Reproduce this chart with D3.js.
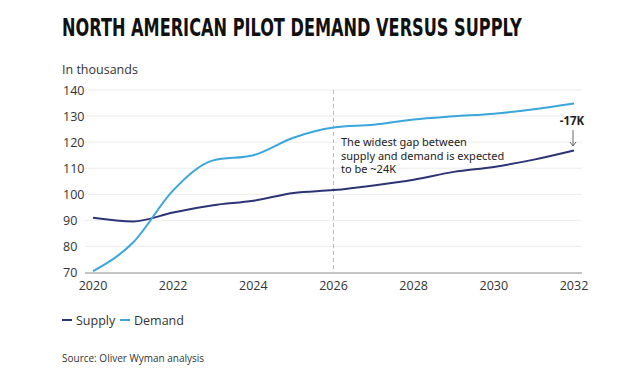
<!DOCTYPE html>
<html>
<head>
<meta charset="utf-8">
<script src="https://cdn.jsdelivr.net/npm/d3@7"></script>
<style>
  body { margin: 0; background: #fff; }
  text { font-family: "Open Sans", "Noto Sans", sans-serif; }
</style>
</head>
<body>
<div id="chart"></div>
<script>
// data (thousands of pilots)
const years = [2020, 2021, 2022, 2023, 2024, 2025, 2026, 2027, 2028, 2029, 2030, 2031, 2032];
const supply = [91, 89.6, 93, 95.8, 97.5, 100.5, 101.6, 103.4, 105.6, 108.6, 110.5, 113.3, 116.8];
const demand = [70.5, 81.5, 101.5, 113, 115, 121.7, 125.6, 126.7, 128.7, 129.9, 130.9, 132.6, 134.8];
const yTicks = [70, 80, 90, 100, 110, 120, 130, 140];
const xTicks = [2020, 2022, 2024, 2026, 2028, 2030, 2032];

const W = 632, H = 377;

const svg = d3.select("#chart")
    .append("svg")
    .attr("width", W)
    .attr("height", H);

// title - squeeze a condensed bold face to the reference width
const title = svg.append("text")
    .attr("x", 0)
    .attr("y", 0)
    .style("font-family", "'DejaVu Sans Condensed', 'DejaVu Sans', sans-serif")
    .style("font-weight", "bold")
    .style("font-size", "24px")
    .attr("fill", "#111")
    .text("NORTH AMERICAN PILOT DEMAND VERSUS SUPPLY");
const tw = title.node().getComputedTextLength();
title.attr("transform", `translate(62,36) scale(${460 / tw},1)`);

svg.append("text")
    .attr("x", 62)
    .attr("y", 74)
    .style("font-size", "12.5px")
    .attr("fill", "#333")
    .text("In thousands");

const x = d3.scaleLinear()
    .domain([2020, 2032])
    .range([93, 574]);

const y = d3.scaleLinear()
    .domain([70, 140])
    .range([272.5, 90]);

// gridlines
svg.append("g")
    .selectAll("line")
    .data(yTicks.slice(1))
    .join("line")
    .attr("x1", 85)
    .attr("x2", 582)
    .attr("y1", d => y(d))
    .attr("y2", d => y(d))
    .attr("stroke", "#ececec")
    .attr("stroke-width", 1);

// y labels
svg.append("g")
    .selectAll("text")
    .data(yTicks)
    .join("text")
    .attr("x", 63)
    .attr("y", d => y(d) + 4.5)
    .style("font-size", "12.5px")
    .attr("fill", "#333")
    .text(d => d);

// baseline + x labels
svg.append("line")
    .attr("x1", 85)
    .attr("x2", 582)
    .attr("y1", y(70) + 0.5)
    .attr("y2", y(70) + 0.5)
    .attr("stroke", "#8a8a8a")
    .attr("stroke-width", 1.2);

svg.append("g")
    .selectAll("text")
    .data(xTicks)
    .join("text")
    .attr("x", d => x(d))
    .attr("y", 290)
    .attr("text-anchor", "middle")
    .style("font-size", "12.5px")
    .attr("fill", "#333")
    .text(d => d);

// dashed marker at 2026
svg.append("line")
    .attr("x1", x(2026))
    .attr("x2", x(2026))
    .attr("y1", y(140))
    .attr("y2", y(70))
    .attr("stroke", "#bbb")
    .attr("stroke-dasharray", "4,3")
    .attr("stroke-width", 1);

const line = d3.line()
    .x((d, i) => x(years[i]))
    .y(d => y(d))
    .curve(d3.curveMonotoneX);

const color = { Supply: "#2b3474", Demand: "#3aa6dc" };

svg.append("path")
    .datum(supply)
    .attr("fill", "none")
    .attr("stroke", color.Supply)
    .attr("stroke-width", 2)
    .attr("d", line);

svg.append("path")
    .datum(demand)
    .attr("fill", "none")
    .attr("stroke", color.Demand)
    .attr("stroke-width", 2)
    .attr("d", line);

// annotation
const note = ["The widest gap between", "supply and demand is expected", "to be ~24K"];
svg.append("g")
    .selectAll("text")
    .data(note)
    .join("text")
    .attr("x", 341)
    .attr("y", (d, i) => 146 + i * 13.5)
    .style("font-family", "'Noto Sans', sans-serif")
    .style("font-size", "11px")
    .attr("fill", "#222")
    .text(d => d);

svg.append("text")
    .attr("x", 572)
    .attr("y", 125)
    .attr("text-anchor", "middle")
    .style("font-size", "11.5px")
    .style("font-weight", "bold")
    .attr("fill", "#222")
    .text("-17K");

const ax = x(2032) - 1;
svg.append("line")
    .attr("x1", ax).attr("x2", ax)
    .attr("y1", 130).attr("y2", 146)
    .attr("stroke", "#444").attr("stroke-width", 0.8);
svg.append("path")
    .attr("d", `M${ax - 3},${142} L${ax},${146} L${ax + 3},${142}`)
    .attr("fill", "none")
    .attr("stroke", "#444")
    .attr("stroke-width", 0.8);

// legend
const legendItems = [["Supply", 62], ["Demand", 120]];
legendItems.forEach(([name, lx]) => {
    svg.append("line")
        .attr("x1", lx).attr("x2", lx + 10)
        .attr("y1", 320).attr("y2", 320)
        .attr("stroke", color[name])
        .attr("stroke-width", 2);
    svg.append("text")
        .attr("x", lx + 14)
        .attr("y", 324.5)
        .style("font-size", "12.5px")
        .attr("fill", "#333")
        .text(name);
});

svg.append("text")
    .attr("x", 62)
    .attr("y", 362)
    .style("font-size", "10px")
    .attr("fill", "#333")
    .text("Source: Oliver Wyman analysis");
</script>
</body>
</html>
